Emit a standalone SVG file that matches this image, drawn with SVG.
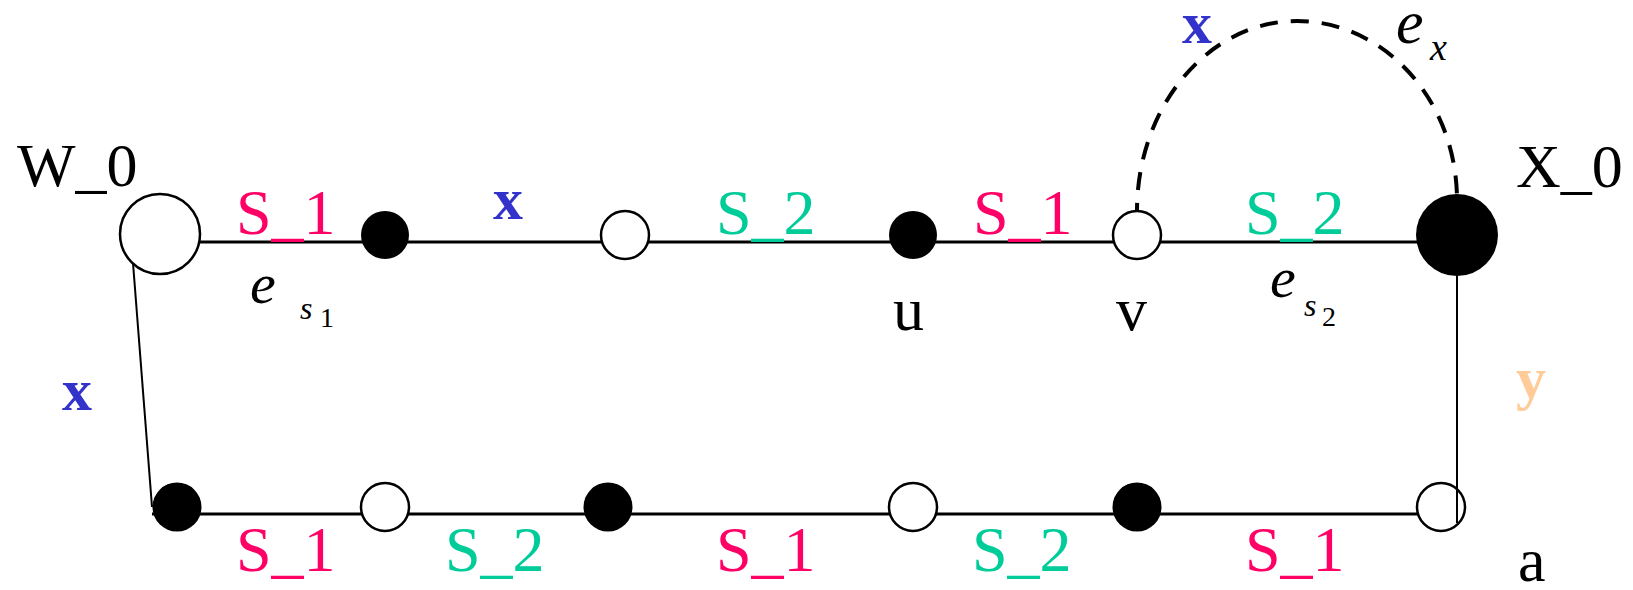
<svg xmlns="http://www.w3.org/2000/svg" width="1633" height="590" viewBox="0 0 1633 590">
<style>
  text{font-family:'Liberation Serif','Times New Roman','DejaVu Serif',serif;}
  .big{font-size:62px;fill:#000;}
  .s1{font-size:64px;fill:#FF0066;}
  .s2{font-size:64px;fill:#00CC99;}
  .bx{font-size:60px;font-weight:bold;fill:#3333CC;}
  .by{font-size:60px;font-weight:bold;fill:#FFCC99;}
  .e{font-size:58px;font-style:italic;fill:#000;}
  .sub{font-size:32px;font-style:italic;fill:#000;}
  .num{font-size:28px;fill:#000;}
  .edge{stroke:#000;stroke-width:3;fill:none;}
  .thin{stroke:#000;stroke-width:2;fill:none;}
  .dash{stroke:#000;stroke-width:4;fill:none;stroke-dasharray:18 13;stroke-dashoffset:10;}
  .open{fill:#fff;stroke:#000;stroke-width:2.5;}
  .full{fill:#000;}
</style>
<g id="connectors">
  <line class="edge" x1="160" y1="242" x2="1457" y2="242"/>
  <line class="edge" x1="152" y1="514" x2="1441" y2="514"/>
  <line class="thin" x1="133" y1="263" x2="152" y2="507"/>
  <path class="dash" d="M1137,211 C1137,106 1209,21 1297,21 C1385,21 1457,101 1457,200"/>
</g>
<g id="node-W0"><circle class="open" cx="160" cy="234" r="40"/></g>
<g id="node-t1"><circle class="full" cx="385" cy="235" r="24"/></g>
<g id="node-t2"><circle class="open" cx="625" cy="235" r="24"/></g>
<g id="node-u"><circle class="full" cx="913" cy="235" r="24"/></g>
<g id="node-v"><circle class="open" cx="1137" cy="235" r="24"/></g>
<g id="node-X0"><circle class="full" cx="1457" cy="235" r="41"/></g>
<g id="node-b1"><circle class="full" cx="177" cy="507" r="24.5"/></g>
<g id="node-b2"><circle class="open" cx="385" cy="507" r="24"/></g>
<g id="node-b3"><circle class="full" cx="608" cy="507" r="24.5"/></g>
<g id="node-b4"><circle class="open" cx="913" cy="507" r="24"/></g>
<g id="node-b5"><circle class="full" cx="1137" cy="507" r="24.5"/></g>
<g id="node-a"><circle class="open" cx="1441" cy="507" r="24"/></g>
<g id="connector-y"><line class="thin" x1="1457" y1="276" x2="1457" y2="523"/></g>
<g id="labels">
  <text class="big" font-family="Liberation Serif, serif" x="17" y="186">W_0</text>
  <text class="big" font-family="Liberation Serif, serif" x="1516" y="187">X_0</text>
  <text class="big" font-family="Liberation Serif, serif" x="893" y="330">u</text>
  <text class="big" font-family="Liberation Serif, serif" x="1116" y="330">v</text>
  <text class="big" font-family="Liberation Serif, serif" x="1518" y="581">a</text>
  <text class="s1" font-family="Liberation Serif, serif" x="236" y="234">S_1</text>
  <text class="bx" font-family="Liberation Serif, serif" x="493" y="219">x</text>
  <text class="s2" font-family="Liberation Serif, serif" x="716" y="234">S_2</text>
  <text class="s1" font-family="Liberation Serif, serif" x="973" y="234">S_1</text>
  <text class="s2" font-family="Liberation Serif, serif" x="1245" y="234">S_2</text>
  <text class="s1" font-family="Liberation Serif, serif" x="236" y="571">S_1</text>
  <text class="s2" font-family="Liberation Serif, serif" x="445" y="571">S_2</text>
  <text class="s1" font-family="Liberation Serif, serif" x="716" y="571">S_1</text>
  <text class="s2" font-family="Liberation Serif, serif" x="972" y="571">S_2</text>
  <text class="s1" font-family="Liberation Serif, serif" x="1245" y="571">S_1</text>
  <text class="bx" font-family="Liberation Serif, serif" x="62" y="410">x</text>
  <text class="by" font-family="Liberation Serif, serif" x="1516" y="398">y</text>
  <text class="bx" font-family="Liberation Serif, serif" x="1182" y="43">x</text>
  <text class="e" font-family="Liberation Serif, serif" x="250" y="303">e</text>
  <text class="sub" font-family="Liberation Serif, serif" x="300" y="319">s</text>
  <text class="num" font-family="Liberation Serif, serif" x="320" y="327">1</text>
  <text class="e" font-family="Liberation Serif, serif" x="1270" y="297">e</text>
  <text class="sub" font-family="Liberation Serif, serif" x="1304" y="316">s</text>
  <text class="num" font-family="Liberation Serif, serif" x="1322" y="326">2</text>
  <text class="e" font-family="Liberation Serif, serif" style="font-size:62px" x="1396" y="43">e</text>
  <text class="sub" font-family="Liberation Serif, serif" style="font-size:38px" x="1430" y="60">x</text>
</g>
</svg>
